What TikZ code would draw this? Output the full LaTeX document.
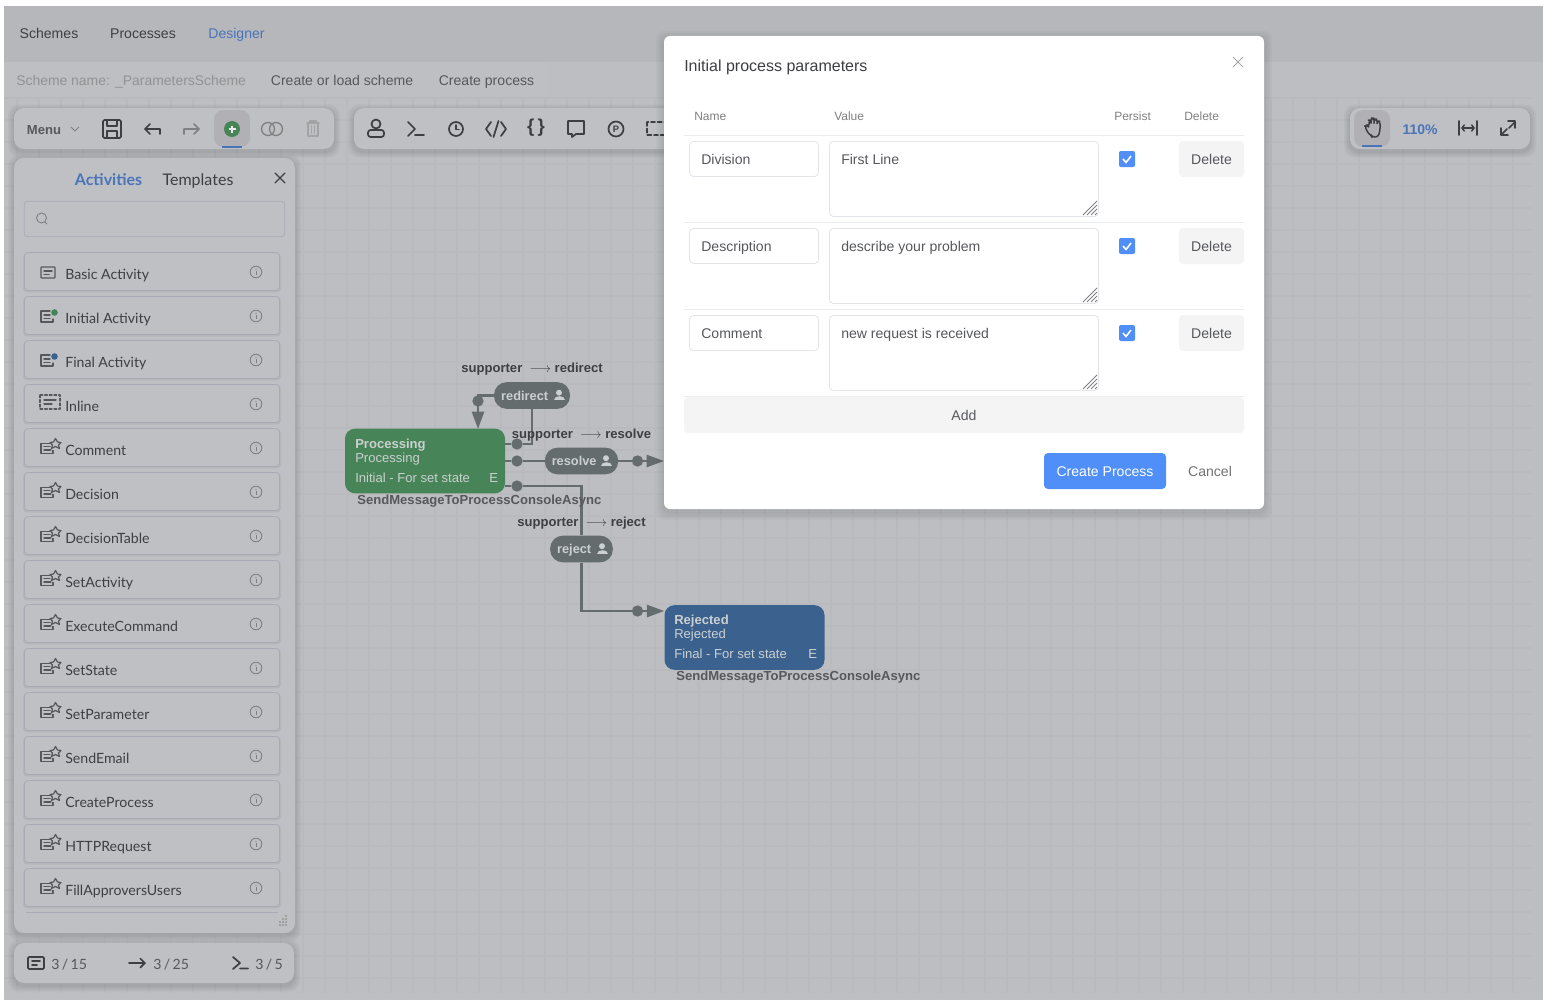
\documentclass[tikz,border=0pt]{standalone}
\usepackage{fontspec}
\setmainfont{Liberation Sans}
\newfontfamily\latofont{Lato}
\usetikzlibrary{arrows.meta}

\definecolor{topband}{HTML}{B6B7BB}
\definecolor{canvasbg}{HTML}{BDBEC2}
\definecolor{stripbg}{HTML}{BEBFC3}
\definecolor{gridcol}{HTML}{B9BABE}
\definecolor{panelbg}{HTML}{BFC0C4}
\definecolor{inkcol}{HTML}{3E3F42}
\definecolor{softink}{HTML}{57585C}
\definecolor{bluecol}{HTML}{4A74B8}
\definecolor{edgecol}{HTML}{646C6E}
\definecolor{flowgreen}{HTML}{478558}
\definecolor{flowblue}{HTML}{3B628F}
\definecolor{pilltext}{HTML}{CBCFCF}
\definecolor{rulecol}{HTML}{EBEEF0}
\definecolor{fieldcol}{HTML}{E2E4E9}
\definecolor{btncol}{HTML}{F4F4F5}
\definecolor{btnblue}{HTML}{4F8FF7}
\definecolor{itemline}{HTML}{A8AAB7}

\tikzset{
  x=0.75pt, y=-0.75pt,
  panel/.style={fill=panelbg, rounded corners=7.5pt},
  softedge/.style={fill=black, fill opacity=.03, rounded corners=8pt},
  itembox/.style={draw=itemline, fill=panelbg, rounded corners=2.5pt, line width=.6pt},
  txt/.style={font=\fontsize{10.55}{12}\selectfont, text=inkcol, inner sep=0pt, text height=8.5pt, text depth=1pt},
  lato/.style={font=\latofont\fontsize{10.6}{12}\selectfont, text=inkcol, inner sep=0pt, text height=8.5pt, text depth=1pt},
  header/.style={font=\fontsize{9}{11}\selectfont, text=gray, inner sep=0pt, text height=7.5pt, text depth=1pt},
  flow/.style={draw=edgecol, line width=1.9pt},
  flowtip/.style={flow, -{Triangle[length=13pt,width=9pt]}},
  dotmark/.style={circle, fill=edgecol, minimum size=8.5pt, inner sep=0pt},
  state/.style={rounded corners=7.5pt, minimum width=120pt, minimum height=48.5pt, inner sep=0pt},
  pill/.style={fill=edgecol, rounded corners=9.5pt, minimum height=20pt, inner sep=0pt, font=\bfseries\fontsize{9.6}{11}\selectfont, text=pilltext, text height=7.5pt, text depth=.5pt},
  statetext/.style={inner sep=0pt, text=pilltext, font=\fontsize{9.8}{11}\selectfont, anchor=west, text height=7.5pt, text depth=1pt},
  flowlabel/.style={inner sep=0pt, text=inkcol, font=\bfseries\fontsize{9.8}{11}\selectfont, text height=7.5pt, text depth=.5pt},
  actname/.style={inner sep=0pt, text=softink, font=\bfseries\fontsize{9.82}{11}\selectfont, anchor=west, text height=7.5pt, text depth=.5pt},
  icon/.style={draw=inkcol, line width=1.3pt, line cap=round, line join=round},
  field/.style={draw=fieldcol, fill=white, rounded corners=3pt, line width=.6pt},
  btn/.style={fill=btncol, rounded corners=3pt},
}
\newcommand{\personicon}[2]{
  \fill[pilltext] (#1,#2-2.8) circle (3);
  \fill[pilltext] (#1-5.5,#2+4.5) .. controls (#1-5.5,#2-.5) and (#1+5.5,#2-.5) .. (#1+5.5,#2+4.5) -- cycle;
}
\newcommand{\staricon}[2]{
  \draw[icon, line width=.9pt, softink] (#1+4,#2+3) -- (#1+4,#2+6) -- (#1-8,#2+6) -- (#1-8,#2-4) -- (#1+1,#2-4);
  \draw[icon, line width=.9pt, softink] (#1-5,#2-1) -- (#1+1,#2-1) (#1-5,#2+2.5) -- (#1+2,#2+2.5);
  \draw[icon, line width=.9pt, softink] (#1+6.5,#2-9) -- (#1+8.5,#2-5.5) -- (#1+12,#2-5) -- (#1+9.5,#2-2.5) -- (#1+10.5,#2+1) -- (#1+6.5,#2-1) -- (#1+2.5,#2+1) -- (#1+3.5,#2-2.5) -- (#1+1,#2-5) -- (#1+4.5,#2-5.5) -- cycle;
}
\newcommand{\infoicon}[2]{
  \draw[gray, line width=.7pt] (#1,#2) circle (5.8);
  \fill[gray] (#1,#2-2.8) circle (.7);
  \draw[gray, line width=.7pt] (#1,#2-.8) -- (#1,#2+3.2);
}
\newcommand{\panelbox}[4]{
  \foreach \grow in {6,4.5,3,1.5}
    \fill[softedge] (#1-\grow,#2-\grow+2.5) rectangle (#3+\grow,#4+\grow+2.5);
  \fill[panel] (#1,#2) rectangle (#3,#4);
}

\begin{document}
\begin{tikzpicture}
\useasboundingbox (0,0) rectangle (1548,1006);
\fill[white] (0,0) rectangle (1548,1006);
\fill[topband] (4,6) rectangle (1543,62);
\fill[canvasbg] (4,62) rectangle (1543,1000);
\fill[stripbg] (4,62) rectangle (547,97);
\fill[stripbg] (4,993) rectangle (1543,1000);

% grid
\foreach \gx in {17,39,...,1530}
  \draw[gridcol, line width=1.5pt] (\gx,97) -- (\gx,993);
\foreach \gy in {98,120,...,990}
  \draw[gridcol, line width=1.5pt] (4,\gy) -- (1531,\gy);

% top menus
\node (schemes) [txt] at (49,34) {Schemes};
\node (processes) [txt] at (143,34) {Processes};
\node (designer) [txt, text=bluecol] at (236.5,34) {Designer};
\node (schemename) [txt, font=\fontsize{10.45}{12}\selectfont, text=gray!70!canvasbg, anchor=west] at (16,80) {Scheme name: \_ParametersScheme};
\node (loadscheme) [txt, text=softink] at (342,80) {Create or load scheme};
\node (createproc) [txt, text=softink] at (486.5,80) {Create process};

% toolbars
\panelbox{14}{108}{334}{149}
\panelbox{354}{108}{690}{149}
\panelbox{1350}{108}{1530}{149}
\panelbox{14}{158}{295}{933}
\panelbox{14}{943}{294}{983}

\node (menu) [txt, text=softink, font=\bfseries\fontsize{9.8}{12}\selectfont] at (44,129) {Menu};
\draw[gray, line width=.75pt] (71,127) -- (75,131) -- (79,127);
\draw[icon, rounded corners=1pt] (103,120) rectangle (121,138);
\draw[icon] (107,120) -- (107,126) -- (117,126) -- (117,120) (107,138) -- (107,131) -- (117,131) -- (117,138);
\draw[icon] (160,134) -- (160,129) -- (145,129) (150,124) -- (145,129) -- (150,134);
\draw[icon, gray] (184,134) -- (184,129) -- (199,129) (194,124) -- (199,129) -- (194,134);
\fill[gray!20!canvasbg, rounded corners=7pt] (214,110) rectangle (250,147);
\fill[flowgreen] (232,129) circle (8);
\draw[white!85!gray, line width=1pt] (228.5,129) -- (235.5,129) (232,125.5) -- (232,132.5);
\draw[bluecol, line width=1.6pt] (222,147) -- (242,147);
\draw[icon, gray, line width=1pt] (268,129) circle (6.5) (276,129) circle (6.5);
\draw[icon, gray!45!panelbg] (307,123) -- (319,123) (310,123) -- (310,121) -- (316,121) -- (316,123) (308,123) -- (308,136) -- (318,136) -- (318,123) (311.5,126) -- (311.5,133) (314.5,126) -- (314.5,133);

\draw[icon] (376,124) circle (4.5);
\draw[icon, rounded corners=2pt] (368,130) rectangle (384,137);
\draw[icon] (408,122) -- (415,129) -- (408,136) (415,135) -- (424,135);
\draw[icon] (456,129) circle (7);
\draw[icon] (456,125) -- (456,129.5) -- (459,129.5);
\draw[icon] (491,122) -- (486,129) -- (491,136) (501,122) -- (506,129) -- (501,136) (498.5,121) -- (493.5,137);
\node (braces) [txt, font=\bfseries\fontsize{14}{14}\selectfont] at (536,127) {\{\,\}};
\draw[icon] (568,121) -- (584,121) -- (584,134) -- (576,134) -- (572,137) -- (572,134) -- (568,134) -- cycle;
\draw[icon] (616,129) circle (7.5);
\node (ptoken) [inner sep=0pt, text=inkcol, font=\bfseries\fontsize{7}{7}\selectfont] at (616,129) {P};
\draw[icon, dash pattern=on 3pt off 2pt] (647,122) rectangle (668,135);

% side panel
\node (activities) [lato, text=bluecol, font=\latofont\bfseries\fontsize{12}{14}\selectfont] at (108.5,180) {Activities};
\node (templates) [lato, font=\latofont\fontsize{12}{14}\selectfont] at (198,180) {Templates};
\draw[icon, line width=1pt] (275,173) -- (285,183) (285,173) -- (275,183);
\node (searchbox) [draw=itemline, rounded corners=2.5pt, line width=.6pt, minimum width=195.5pt, minimum height=26.5pt, inner sep=0pt] at (154.5,219) {};
\draw[gray, line width=.7pt] (41.5,218) circle (5) (45,222) -- (47,224);

\foreach \txt [count=\i from 0] in {Basic Activity,Initial Activity,Final Activity,Inline,Comment,Decision,DecisionTable,SetActivity,ExecuteCommand,SetState,SetParameter,SendEmail,CreateProcess,HTTPRequest,FillApproversUsers} {
  \pgfmathsetmacro{\rowy}{252+44*\i}
  \fill[black, opacity=.05, rounded corners=3pt] (23,\rowy+1) rectangle (281,\rowy+40.5);
  \filldraw[itembox] (24.5,\rowy+.5) rectangle (279.5,\rowy+38.5);
  \node (item-\i) [lato, anchor=west] at (65,\rowy+22) {\txt};
  \infoicon{256}{\rowy+20}
  \ifnum\i>3
    \staricon{49}{\rowy+19.5}
  \fi
}
\draw[icon, softink, line width=1pt, rounded corners=.6pt] (41,267) rectangle (55,278);
\draw[icon, softink, line width=1pt] (44,271) -- (52,271) (44,274.5) -- (49,274.5);
\draw[icon, softink, line width=1pt] (53,319) -- (53,322) -- (41,322) -- (41,311) -- (50,311);
\draw[icon, softink, line width=1pt] (44,315) -- (50,315) (44,318.5) -- (50,318.5);
\fill[flowgreen] (54.5,312.5) circle (3.3);
\draw[icon, softink, line width=1pt] (53,363) -- (53,366) -- (41,366) -- (41,355) -- (50,355);
\draw[icon, softink, line width=1pt] (44,359) -- (50,359) (44,362.5) -- (50,362.5);
\fill[flowblue] (54.5,356.5) circle (3.3);
\draw[icon, softink, line width=1pt, dash pattern=on 2pt off 1.5pt] (40,395) rectangle (60,409);
\draw[icon, softink, line width=1pt] (44,400) -- (56,400) (44,404) -- (52,404);
\draw[itemline, line width=.6pt] (26,912) -- (278,912);
\foreach \hx/\hy in {286/916,283/919,286/919,280/922,283/922,286/922,280/925,283/925,286/925}
  \fill[gray] (\hx,\hy) circle (.8);

% status bar
\draw[icon, rounded corners=.8pt] (28,957) rectangle (44,969);
\draw[icon] (32,961) -- (40,961) (32,965) -- (37,965);
\node (countact) [lato, text=softink, anchor=west] at (51,964) {3\,/\,15};
\draw[icon, -{Straight Barb[length=3.5pt,width=7pt]}] (129,963) -- (146,963);
\node (counttrans) [lato, text=softink, anchor=west] at (153,964) {3\,/\,25};
\draw[icon] (233,957) -- (240,963) -- (233,969) (240,968.5) -- (248,968.5);
\node (countcmd) [lato, text=softink, anchor=west] at (255,964) {3\,/\,5};

% view controls
\fill[gray!20!canvasbg, rounded corners=7pt] (1354,110) rectangle (1390,147);
\draw[icon, line width=1.1pt, rounded corners=2pt] (1371,135) .. controls (1368,133) and (1366,129) .. (1365,126) -- (1367,125) -- (1369,127) -- (1369,120) -- (1371,120) -- (1371,125) -- (1371,118) -- (1374,118) -- (1374,125) -- (1374,119) -- (1377,119) -- (1377,125) -- (1377,121) -- (1380,121) -- (1380,131) -- (1378,137) -- (1372,137) -- cycle;
\draw[bluecol, line width=1.6pt] (1362,146) -- (1382,146);
\node (zoomlevel) [txt, text=bluecol, font=\bfseries\fontsize{10.5}{12}\selectfont] at (1420,129) {110\%};
\draw[icon] (1459,121) -- (1459,135) (1477,121) -- (1477,135);
\draw[icon, line width=1.1pt, {Straight Barb[length=2pt,width=5pt]}-{Straight Barb[length=2pt,width=5pt]}] (1461,128) -- (1475,128);
\draw[icon] (1501,128) -- (1501,135) -- (1508,135) (1501,135) -- (1507,129) (1509,128) -- (1515,122) (1508,121) -- (1515,121) -- (1515,128);

% diagram
\node (processing) [state, fill=flowgreen] at (425,461) {};
\node (rejected) [state, fill=flowblue] at (744.5,637.5) {};
\node (redirect) [pill, minimum width=57pt] at (532,395.5) {\hspace*{-11pt}redirect};
\node (resolve) [pill, minimum width=55pt] at (581.5,461) {\hspace*{-11pt}resolve};
\node (reject) [pill, minimum width=47pt] at (581.5,549) {\hspace*{-11pt}reject};
\personicon{559}{395.5}
\personicon{606}{461}
\personicon{602}{549}

\node (dotreturn) [dotmark] at (478,401) {};
\node (dotredirect) [dotmark] at (517,444) {};
\node (dotresolve) [dotmark] at (517,461) {};
\node (dotreject) [dotmark] at (517,486) {};
\node (dotresolved) [dotmark] at (637.5,461) {};
\node (dotrejected) [dotmark] at (637.5,611) {};
\coordinate (returnin) at (478,429);
\coordinate (resolveout) at (664,461);

\draw[flow] (processing.east |- dotredirect) -- (dotredirect) -| (redirect.south);
\draw[flowtip] (redirect.west) -| (returnin);
\draw[flow] (processing.east |- dotresolve) -- (dotresolve) -- (resolve.west);
\draw[flow] (resolve.east) -- (dotresolved);
\draw[flowtip] (dotresolved) -- (resolveout);
\draw[flow] (processing.east |- dotreject) -- (dotreject) -| (reject.north);
\draw[flow] (reject.south) |- (dotrejected);
\draw[flowtip] (dotrejected) -- (rejected.west |- dotrejected);

\node (procname) [statetext, font=\bfseries\fontsize{9.8}{11}\selectfont] at (355,444.5) {Processing};
\node (procstate) [statetext] at (355,458.5) {Processing};
\node (proctype) [statetext] at (355,478) {Initial - For set state};
\node (procexp) [statetext] at (489,478) {E};
\node (rejname) [statetext, font=\bfseries\fontsize{9.8}{11}\selectfont] at (674,620.5) {Rejected};
\node (rejstate) [statetext] at (674,634.5) {Rejected};
\node (rejtype) [statetext] at (674,654) {Final - For set state};
\node (rejexp) [statetext] at (808,654) {E};
\node (procaction) [actname] at (357,499.5) {SendMessageToProcessConsoleAsync};
\node (rejaction) [actname] at (676,675.5) {SendMessageToProcessConsoleAsync};
\node (labredirect) [flowlabel] at (532,367.5) {supporter\ \ $\longrightarrow$\ redirect};
\node (labresolve) [flowlabel] at (581.5,433.5) {supporter\ \ $\longrightarrow$\ resolve};
\node (labreject) [flowlabel] at (581.5,521.5) {supporter\ \ $\longrightarrow$\ reject};

% modal
\foreach \grow in {8,6,4,2}
  \fill[black, opacity=.025, rounded corners=6pt] (664-\grow,36-\grow+3) rectangle (1264+\grow,509+\grow+3);
\fill[white, rounded corners=4.5pt] (664,36) rectangle (1264,509);
\node (modaltitle) [txt, font=\fontsize{12}{14}\selectfont, anchor=west] at (684,67) {Initial process parameters};
\draw[gray!70, line width=.75pt] (1233,57) -- (1243,67) (1243,57) -- (1233,67);
\node (colname) [header, anchor=west] at (694,116) {Name};
\node (colvalue) [header, anchor=west] at (834,116) {Value};
\node (colpersist) [header, anchor=west] at (1114,116) {Persist};
\node (coldelete) [header, anchor=west] at (1184,116) {Delete};
\draw[rulecol, line width=.75pt] (684,135) -- (1244,135);

\foreach \nm/\val [count=\r from 0] in {Division/First Line,Description/describe your problem,Comment/new request is received} {
  \pgfmathsetmacro{\dy}{87*\r}
  \begin{scope}[shift={(0,\dy)}]
    \draw[field] (689.5,141.5) rectangle (818.5,176.5);
    \node (name-\r) [txt, text=softink, anchor=west] at (701,159) {\nm};
    \draw[field] (829.5,141.5) rectangle (1098.5,216.5);
    \node (value-\r) [txt, text=softink, anchor=west] at (841,159) {\val};
    \draw[gray, line width=.6pt] (1083,215) -- (1097,201) (1087,215) -- (1097,205) (1091,215) -- (1097,209) (1095,215) -- (1097,213);
    \fill[btnblue, rounded corners=1.5pt] (1119,151) rectangle (1135,167);
    \draw[white, line width=1.2pt] (1123,159) -- (1126,162.5) -- (1131,156);
    \fill[btn] (1179,141) rectangle (1244,177);
    \node (delete-\r) [txt, text=softink] at (1211.5,159) {Delete};
    \draw[rulecol, line width=.75pt] (684,222) -- (1244,222);
  \end{scope}
}
\fill[btn] (684,397) rectangle (1244,433);
\node (addrow) [txt, text=softink] at (964,415) {Add};
\fill[btnblue, rounded corners=3pt] (1044,453) rectangle (1166,489);
\node (createbtn) [txt, text=white] at (1105,471) {Create Process};
\node (cancelbtn) [txt, text=gray!90!black] at (1210,471) {Cancel};
\end{tikzpicture}
\end{document}
